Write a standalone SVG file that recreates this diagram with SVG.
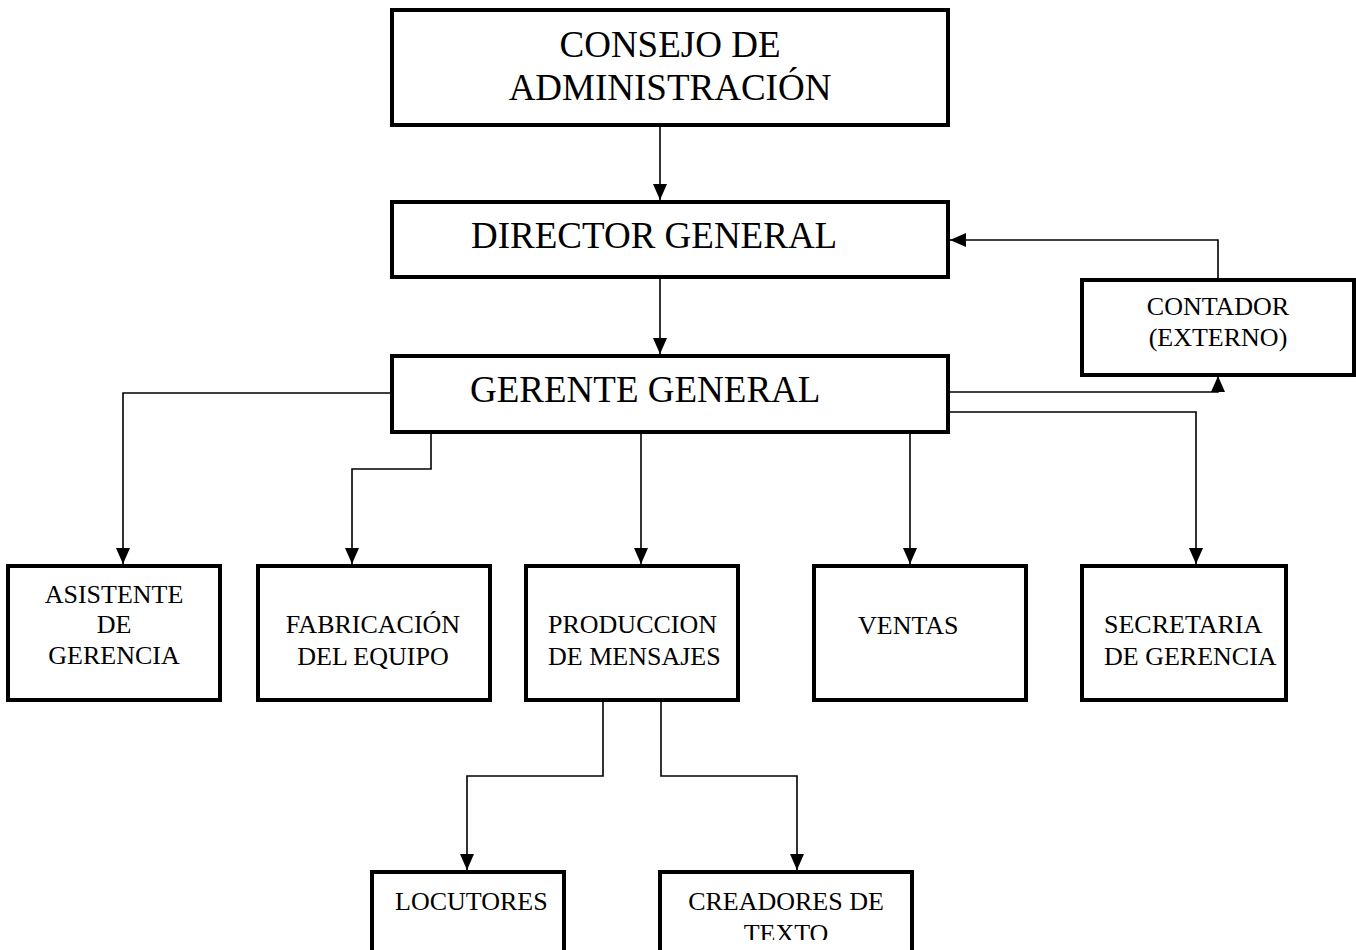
<svg xmlns="http://www.w3.org/2000/svg" width="1356" height="950" viewBox="0 0 1356 950">
<style>
.box{fill:#fff;stroke:#000;stroke-width:4}
.big{font-family:"Liberation Serif","Times New Roman",serif;font-size:37px;fill:#000}
.sm{font-family:"Liberation Serif","Times New Roman",serif;font-size:26px;fill:#000}
.c{text-anchor:middle}
.con{fill:none;stroke:#000;stroke-width:1.6}
</style>
<defs>
<marker id="ah" markerWidth="16" markerHeight="14" viewBox="0 0 16 14" refX="16" refY="7" orient="auto" markerUnits="userSpaceOnUse">
<path d="M0,0 L16,7 L0,14 Z" fill="#000"/>
</marker>
<clipPath id="clipCre"><rect x="660" y="872" width="252" height="68"/></clipPath>
</defs>
<rect width="1356" height="950" fill="#fff"/>
<g id="connectors">
<path class="con" d="M660,125 V200" marker-end="url(#ah)"/>
<path class="con" d="M660,277 V354" marker-end="url(#ah)"/>
<path class="con" d="M1218,280 V240 H950" marker-end="url(#ah)"/>
<path class="con" d="M948,392 H1218 V376" marker-end="url(#ah)"/>
<path class="con" d="M948,412 H1196 V564" marker-end="url(#ah)"/>
<path class="con" d="M392,393 H123 V564" marker-end="url(#ah)"/>
<path class="con" d="M431,432 V469 H352 V564" marker-end="url(#ah)"/>
<path class="con" d="M641,432 V564" marker-end="url(#ah)"/>
<path class="con" d="M910,432 V564" marker-end="url(#ah)"/>
<path class="con" d="M603,700 V776 H467 V870" marker-end="url(#ah)"/>
<path class="con" d="M661,700 V776 H797 V870" marker-end="url(#ah)"/>
</g>
<g id="consejo">
<rect class="box" x="392" y="10" width="556" height="115"/>
<text class="big c" x="670" y="57">CONSEJO DE</text>
<text class="big c" x="670" y="100">ADMINISTRACIÓN</text>
</g>
<g id="director">
<rect class="box" x="392" y="202" width="556" height="75"/>
<text class="big" x="471" y="248">DIRECTOR GENERAL</text>
</g>
<g id="gerente">
<rect class="box" x="392" y="356" width="556" height="76"/>
<text class="big" x="470" y="402">GERENTE GENERAL</text>
</g>
<g id="contador">
<rect class="box" x="1082" y="280" width="272" height="95"/>
<text class="sm c" x="1218" y="315">CONTADOR</text>
<text class="sm c" x="1218" y="346">(EXTERNO)</text>
</g>
<g id="asistente">
<rect class="box" x="8" y="566" width="212" height="134"/>
<text class="sm c" x="114" y="603">ASISTENTE</text>
<text class="sm c" x="114" y="633">DE</text>
<text class="sm c" x="114" y="664">GERENCIA</text>
</g>
<g id="fabricacion">
<rect class="box" x="258" y="566" width="232" height="134"/>
<text class="sm c" x="373" y="633">FABRICACIÓN</text>
<text class="sm c" x="373" y="665">DEL EQUIPO</text>
</g>
<g id="produccion">
<rect class="box" x="526" y="566" width="212" height="134"/>
<text class="sm" x="548" y="633">PRODUCCION</text>
<text class="sm" x="548" y="665">DE MENSAJES</text>
</g>
<g id="ventas">
<rect class="box" x="814" y="566" width="212" height="134"/>
<text class="sm" x="858" y="634">VENTAS</text>
</g>
<g id="secretaria">
<rect class="box" x="1082" y="566" width="204" height="134"/>
<text class="sm" x="1104" y="633">SECRETARIA</text>
<text class="sm" x="1104" y="665">DE GERENCIA</text>
</g>
<g id="locutores">
<rect class="box" x="372" y="872" width="192" height="90"/>
<text class="sm" x="395" y="910">LOCUTORES</text>
</g>
<g id="creadores">
<rect class="box" x="660" y="872" width="252" height="90"/>
<g clip-path="url(#clipCre)">
<text class="sm c" x="786" y="910">CREADORES DE</text>
<text class="sm c" x="786" y="942">TEXTO</text>
</g>
</g>
</svg>
